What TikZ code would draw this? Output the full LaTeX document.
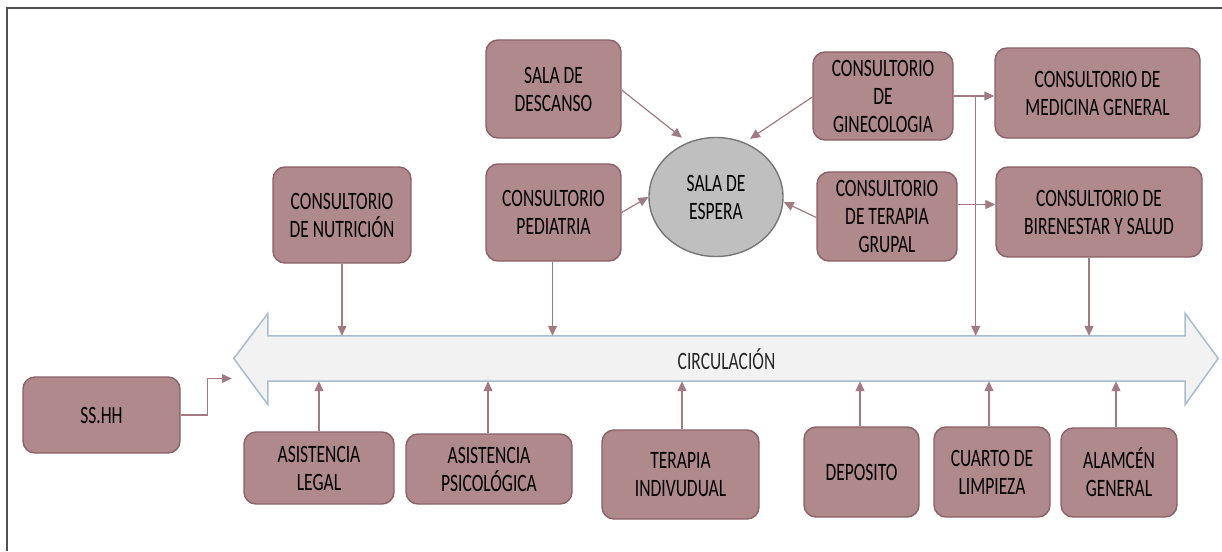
\documentclass[tikz,border=0pt]{standalone}
\usepackage{fontspec}
\setmainfont{Carlito}[FakeStretch=0.70]
\usetikzlibrary{arrows.meta,calc,shapes.geometric}
\definecolor{boxfill}{RGB}{175,137,140}
\definecolor{boxdraw}{RGB}{140,96,103}
\definecolor{linkc}{RGB}{162,122,130}
\definecolor{espfill}{RGB}{191,191,191}
\definecolor{espdraw}{RGB}{118,118,118}
\definecolor{circfill}{RGB}{242,242,242}
\definecolor{circdraw}{RGB}{168,188,210}
\definecolor{framec}{RGB}{80,80,80}
\tikzset{
  room/.style={draw=boxdraw, fill=boxfill, rounded corners=12pt, line width=1.4pt,
    inner sep=0pt, align=center, font=\fontsize{25}{28}\selectfont, text=black},
  link/.style={draw=linkc, line width=1.2pt, -{Triangle[length=10pt,width=9pt]}},
}
\begin{document}
\begin{tikzpicture}[x=1pt,y=-1pt]
\useasboundingbox (0,0) rectangle (1222,551);
\draw[framec, line width=2pt] (7,551) -- (7,8) -- (1222,8);

% circulation arrow
\node[inner sep=0pt, minimum width=917pt, minimum height=45pt] (circ) at (726.5,358.5) {};
\coordinate (ltip) at ($(circ.west)+(-34,0)$);
\coordinate (rtip) at ($(circ.east)+(33,0)$);
\draw[fill=circfill, draw=circdraw, line width=1.5pt, line join=miter]
  (ltip) -- ($(circ.west)+(0,-45)$) -- (circ.north west) -- (circ.north east)
  -- ($(circ.east)+(0,-45)$) -- (rtip) -- ($(circ.east)+(0,46)$) -- (circ.south east)
  -- (circ.south west) -- ($(circ.west)+(0,46)$) -- cycle;
\node[font=\fontsize{25}{28}\selectfont, text={rgb,255:red,38;green,38;blue,38}] (circtext) at ($(circ.center)+(0,1)$) {CIRCULACIÓN};

% top region
\node[room, minimum width=138pt, minimum height=96pt] (nut) at (342,215) {CONSULTORIO\\DE NUTRICIÓN};
\node[room, minimum width=135pt, minimum height=98pt] (desc) at (553.5,89) {SALA DE\\DESCANSO};
\node[room, minimum width=135pt, minimum height=97pt] (ped) at (553.5,212.5) {CONSULTORIO\\PEDIATRIA};
\node[ellipse, draw=espdraw, fill=espfill, line width=1.4pt, inner sep=0pt,
  minimum width=134pt, minimum height=119pt, align=center,
  font=\fontsize{25}{28}\selectfont] (esp) at (716,197) {SALA DE\\ESPERA};
\node[room, minimum width=140pt, minimum height=88pt] (gin) at (883,96) {CONSULTORIO\\DE\\GINECOLOGIA};
\node[room, minimum width=205pt, minimum height=90pt] (med) at (1097.5,93) {CONSULTORIO DE\\MEDICINA GENERAL};
\node[room, minimum width=140pt, minimum height=89pt] (ter) at (887,216.5) {CONSULTORIO\\DE TERAPIA\\GRUPAL};
\node[room, minimum width=206pt, minimum height=90pt] (bir) at (1099,212) {CONSULTORIO DE\\BIRENESTAR Y SALUD};

% bottom region
\node[room, minimum width=157pt, minimum height=76pt] (ss) at (101.5,415) {SS.HH};
\node[room, minimum width=150pt, minimum height=72pt] (leg) at (319,468) {ASISTENCIA\\LEGAL};
\node[room, minimum width=166pt, minimum height=70pt] (psi) at (489,469) {ASISTENCIA\\PSICOLÓGICA};
\node[room, minimum width=157pt, minimum height=89pt] (ind) at (680.5,474.5) {TERAPIA\\INDIVUDUAL};
\node[room, minimum width=115pt, minimum height=90pt] (dep) at (861.5,472) {DEPOSITO};
\node[room, minimum width=116pt, minimum height=90pt] (lim) at (992,472) {CUARTO DE\\LIMPIEZA};
\node[room, minimum width=116pt, minimum height=89pt] (alm) at (1119,472.5) {ALAMCÉN\\GENERAL};

% connectors to circulation (from above)
\draw[link] (nut.south) -- (nut.south |- circ.north);
\draw[link] ([xshift=-1pt]ped.south) -- ([xshift=-1pt]ped.south |- circ.north);
\draw[link] ([xshift=-10pt]bir.south) -- ([xshift=-10pt]bir.south |- circ.north);
\coordinate (gbr) at ($(gin.east)+(22,0)$);
\draw[link] (gin.east) -- (gin.east -| med.west);
\draw[link] (gbr) -- (gbr |- circ.north);
\draw[link] ([yshift=12pt]ter.east) -- ([yshift=12pt]ter.east -| bir.west);

% connectors to waiting room
\draw[link] ([yshift=-1pt]desc.east) -- ($(esp.north)+(-34,1)$);
\draw[link] ([yshift=-1pt]gin.west) -- ($(esp.north)+(34,2)$);
\draw[link] (ped.east) -- (esp.west);
\draw[link] ([yshift=-1pt]ter.west) -- ($(esp.east)+(0,5)$);

% connectors to circulation (from below)
\draw[link] (leg.north) -- (leg.north |- circ.south);
\draw[link] ([xshift=-1pt]psi.north) -- ([xshift=-1pt]psi.north |- circ.south);
\draw[link] ([xshift=1.5pt]ind.north) -- ([xshift=1.5pt]ind.north |- circ.south);
\draw[link] ([xshift=-1.5pt]dep.north) -- ([xshift=-1.5pt]dep.north |- circ.south);
\draw[link] ([xshift=-3pt]lim.north) -- ([xshift=-3pt]lim.north |- circ.south);
\draw[link] ([xshift=-3pt]alm.north) -- ([xshift=-3pt]alm.north |- circ.south);

% SS.HH
\draw[link] (ss.east) -- ++(27,0) |- ($(ltip)+(-2,20)$);
\end{tikzpicture}
\end{document}
